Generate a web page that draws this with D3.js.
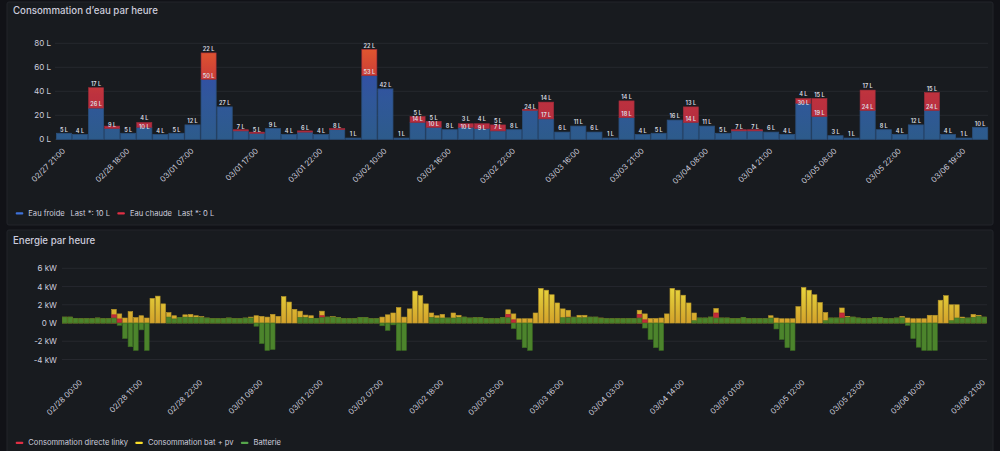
<!DOCTYPE html>
<html><head><meta charset="utf-8">
<script src="https://cdn.jsdelivr.net/npm/d3@7"></script>
<style>
html,body{margin:0;padding:0;background:#111217;}
svg{display:block;font-family:Inter,"Open Sans",sans-serif;}
</style></head><body>
<svg id="c" width="1000" height="451"></svg>
<script>
// ---------- Data: water ----------
const waterTickLabels = ["02/27 21:00","02/28 18:00","03/01 07:00","03/01 17:00","03/01 22:00","03/02 10:00","03/02 16:00","03/02 22:00","03/03 16:00","03/03 21:00","03/04 08:00","03/04 21:00","03/05 08:00","03/05 22:00","03/06 19:00"];
const waterCold = [5,4,26,9,5,10,4,5,12,50, 27,7,5,9,4,6,4,8,1,53, 42,1,14,10,8,10,9,7,8,24, 17,6,11,6,1,18,4,5,16,14, 11,5,7,7,6,4,30,19,3,1, 24,8,4,12,24,4,1,10];
const waterHot  = [0,0,17,2,0,4,0,0,0,22, 0,1,1,0,0,1,0,1,0,22, 0,0,5,5,0,3,4,5,0,1, 14,0,0,0,0,14,0,0,0,13, 0,0,1,1,0,0,4,15,0,0, 17,0,0,0,15,0,0,0];
const waterYTicks = [0,20,40,60,80];

// ---------- Data: energy (hourly, kW) ----------
const energyStart = "2025/02/27 21:00";
const energyTickLabels = ["02/28 00:00","02/28 11:00","02/28 22:00","03/01 09:00","03/01 20:00","03/02 07:00","03/02 18:00","03/03 05:00","03/03 16:00","03/04 03:00","03/04 14:00","03/05 01:00","03/05 12:00","03/05 23:00","03/06 10:00","03/06 21:00"];
const energyYTicks = [-4,-2,0,2,4,6];
const batterie = [
 0.65,0.65,0.5,0.47,0.47,0.47,0.55,0.47,0.47,0.55,
 -0.25,-1.7,-2.6,-3.0,-0.75,-3.0,0,0,0,0.65,
 0.45,0.6,0.65,0.63,0.63,0.6,0.55,0.47,0.47,0.47,
 0.55,0.47,0.47,0.55,0.55,-0.35,-2.25,-3.0,-2.9,0,
 0,0,0,0.6,0.6,0.52,0.5,0.6,0.65,0.65,
 0.58,0.47,0.47,0.47,0.62,0.58,0.47,0.47,-0.3,-0.8,
 -0.2,-3.0,-3.0,0,0,0,0,0.6,0.55,0.55,
 0.55,0.55,0.62,0.65,0.55,0.58,0.58,0.47,0.47,0.47,
 0.58,0.58,-0.6,-1.8,-2.7,-3.0,0,0,0,0,
 0,0.58,0.62,0.62,0.58,0.58,0.65,0.65,0.5,0.47,
 0.47,0.47,0.47,0.47,0.47,0.55,-0.55,-1.8,-2.7,-3.0,
 0,0,0,0,0,0.25,0.55,0.55,0.65,0.55,
 0.55,0.55,0.47,0.47,0.62,0.47,0.47,0.47,0.47,0.55,
 -0.65,-1.8,-2.7,-3.0,0,0,0,0,0,0.25,
 0.55,0.55,0.55,0.62,0.65,0.55,0.47,0.47,0.58,0.58,
 0.47,0.47,0.55,0.58,-0.25,-1.7,-2.65,-3.0,-3.0,-3.0,
 0,0,0.25,0.55,0.52,0.55,0.62,0.73,0.65];
const batPv = [
 0.65,0.65,0.5,0.47,0.47,0.47,0.55,0.47,0.47,1.5,
 1.0,0.55,1.25,0.6,0.8,0.55,2.7,2.95,2.1,1.15,
 0.8,0.6,0.9,0.95,0.8,0.7,0.55,0.47,0.47,0.47,
 0.55,0.47,0.47,0.55,0.65,0.8,0.73,0.65,0.95,0.73,
 2.9,2.3,1.5,1.3,0.87,0.8,0.5,1.3,0.65,0.7,
 0.62,0.47,0.47,0.47,0.62,0.58,0.47,0.47,0.65,0.9,
 1.1,1.7,0.65,1.55,3.5,3.0,2.1,1.1,0.8,0.95,
 0.55,1.1,0.85,0.65,0.55,0.58,0.58,0.47,0.47,0.47,
 0.58,1.45,1.0,0.47,0.47,0.47,1.1,3.8,3.6,3.1,
 2.2,1.55,1.4,0.65,0.85,0.85,0.65,0.65,0.55,0.47,
 0.47,0.47,0.47,0.47,0.47,1.4,1.0,0.5,0.5,0.55,
 1.0,3.8,3.6,3.05,2.2,1.1,0.55,0.55,0.65,1.6,
 0.55,0.55,0.47,0.47,0.62,0.47,0.47,0.47,0.47,0.8,
 0.55,0.47,0.47,0.47,1.8,3.9,3.6,3.1,2.25,1.15,
 0.55,0.55,1.65,0.73,0.65,0.55,0.47,0.47,0.58,0.58,
 0.47,0.47,0.55,0.73,0.55,0.47,0.47,0.47,0.85,0.85,
 2.5,3.0,2.0,2.0,0.65,0.55,0.95,0.85,0.65];
const linky = new Array(169).fill(0);
const linkyPeaks = [[9,0.9],[10,0.45],[47,0.8],[81,0.95],[82,0.35],[92,0.65],[105,0.95],[106,0.35],[119,1.1],[142,1.1]];
linkyPeaks.forEach(([i,v])=>{linky[i]=v;});

// ---------- Drawing ----------
const svg = d3.select("#c");
const TXT = "#ccccdc";
const defs = svg.append("defs");

// panels
svg.append("rect").attr("x",7).attr("y",2).attr("width",986).attr("height",223).attr("rx",2)
  .attr("fill","#181b1f").attr("stroke","#22252b");
svg.append("rect").attr("x",7).attr("y",230).attr("width",986).attr("height",230).attr("rx",2)
  .attr("fill","#181b1f").attr("stroke","#22252b");

svg.append("text").attr("x",13).attr("y",14).attr("fill",TXT).attr("font-size",9.7).attr("font-weight",500)
  .text("Consommation d’eau par heure");
svg.append("text").attr("x",13).attr("y",243.5).attr("fill",TXT).attr("font-size",9.7).attr("font-weight",500)
  .text("Energie par heure");

// ===== Water chart =====
const wx = d3.scaleBand().domain(d3.range(waterCold.length)).range([55.9,988.2]).paddingInner(0.06).paddingOuter(0.03);
const wy = d3.scaleLinear().domain([0,80]).range([139.3,43.3]);

function grad(id, y0, y1, stops){
  const g = defs.append("linearGradient").attr("id",id).attr("gradientUnits","userSpaceOnUse")
    .attr("x1",0).attr("x2",0).attr("y1",y0).attr("y2",y1);
  stops.forEach(s=>g.append("stop").attr("offset",s[0]).attr("stop-color",s[1]));
}
grad("gBlue", wy(0), wy(75), [[0,"#2d5b8b"],[0.45,"#30579a"],[1,"#3549b0"]]);
grad("gRed", wy(0), wy(75), [[0,"#b22a40"],[0.5,"#bd323e"],[0.75,"#cf4236"],[1,"#e0562f"]]);

svg.append("g").selectAll("line").data(waterYTicks).join("line")
  .attr("x1",55).attr("x2",988).attr("y1",d=>wy(d)).attr("y2",d=>wy(d))
  .attr("stroke","#26282e").attr("stroke-width",1);
const wAxis = svg.append("g").attr("transform","translate(53,0)")
  .call(d3.axisLeft(wy).tickValues(waterYTicks).tickSize(0).tickPadding(2).tickFormat(d=>d+" L"));
wAxis.select(".domain").remove();
wAxis.selectAll("text").attr("fill",TXT).attr("font-size",8).attr("font-family","Inter");

const wb = svg.append("g");
waterCold.forEach((c,i)=>{
  const h = waterHot[i];
  wb.append("rect").attr("x",wx(i)).attr("width",wx.bandwidth())
    .attr("y",wy(c)).attr("height",wy(0)-wy(c)).attr("fill","url(#gBlue)")
    .attr("stroke","#2a4f7c").attr("stroke-width",0.8);
  if(h>0){
    wb.append("rect").attr("x",wx(i)).attr("width",wx.bandwidth())
      .attr("y",wy(c+h)).attr("height",wy(c)-wy(c+h)).attr("fill","url(#gRed)")
      .attr("stroke","#9e2a3a").attr("stroke-width",0.6);
  }
});
const lbl = svg.append("g").attr("font-size",5.6).attr("font-weight",600).attr("fill","#dcdde2").attr("text-anchor","middle");
waterCold.forEach((c,i)=>{
  const h = waterHot[i];
  const cx = wx(i)+wx.bandwidth()/2;
  const small = h>=3 && h<5;
  lbl.append("text").attr("x",cx).attr("y",small ? wy(c)+1.6 : wy(c)-1.8).text(c+" L");
  if(h>=3) lbl.append("text").attr("x",cx).attr("y",small ? wy(c+h)-2.6 : wy(c+h)-1.8).text(h+" L");
});
// x labels
const wxl = svg.append("g").attr("font-size",7.8).attr("fill",TXT).attr("text-anchor","end");
waterTickLabels.forEach((t,k)=>{
  const i = k*4;
  const cx = wx(i)+wx.bandwidth()/2;
  wxl.append("text").attr("transform",`translate(${cx+1.8},${151.5}) rotate(-45)`).text(t);
});
// legend: laid out sequentially
function legend(y, items){
  const g = svg.append("g").attr("font-size",7.6).attr("fill",TXT);
  let x = 15.7;
  items.forEach(it=>{
    g.append("rect").attr("x",x).attr("y",y-1).attr("width",7.6).attr("height",2.2).attr("rx",1).attr("fill",it.color);
    x += 12.6;
    it.texts.forEach((s,k)=>{
      const t = g.append("text").attr("x",x).attr("y",y+2.7).text(s);
      x += t.node().getComputedTextLength() + (k < it.texts.length-1 ? 5.7 : 7.2);
    });
  });
}
legend(213.3,[
  {color:"#3d71d9",texts:["Eau froide","Last *: 10 L"]},
  {color:"#e02f44",texts:["Eau chaude","Last *: 0 L"]}
]);

// ===== Energy chart =====
const parse = d3.timeParse("%Y/%m/%d %H:%M");
const t0 = parse(energyStart);
const year = energyStart.slice(0,5);
const times = batPv.map((_,i)=>d3.timeHour.offset(t0,i));
const ex = d3.scaleTime().domain([d3.timeMinute.offset(t0,-30), d3.timeMinute.offset(times[times.length-1],30)]).range([62,987]);
const ey = d3.scaleLinear().domain([-4,6]).range([359.5,268.3]);
grad("gYel", ey(0), ey(4), [[0,"#d4a12a"],[0.5,"#dcbc33"],[1,"#e8d63e"]]);

svg.append("g").selectAll("line").data(energyYTicks).join("line")
  .attr("x1",62).attr("x2",987).attr("y1",d=>ey(d)).attr("y2",d=>ey(d))
  .attr("stroke","#26282e");
const eAxis = svg.append("g").attr("transform","translate(59,0)")
  .call(d3.axisLeft(ey).tickValues(energyYTicks).tickSize(0).tickPadding(2)
    .tickFormat(d=> d===0 ? "0 W" : d+" kW"));
eAxis.select(".domain").remove();
eAxis.selectAll("text").attr("fill",TXT).attr("font-size",8).attr("font-family","Inter");

const bw = 4.6;
const eb = svg.append("g");
function bars(vals, fill, stroke){
  eb.append("g").selectAll("rect").data(vals.map((v,i)=>({v,t:times[i]})).filter(d=>d.v!==0)).join("rect")
    .attr("x",d=>ex(d.t)-bw/2).attr("width",bw)
    .attr("y",d=>Math.min(ey(d.v),ey(0))).attr("height",d=>Math.abs(ey(d.v)-ey(0)))
    .attr("fill",fill).attr("stroke",stroke).attr("stroke-width",0.6);
}
bars(batPv,"url(#gYel)","#b8962a");
bars(linky,"#c4293a","#a8202f");
bars(batterie,"#4c842c","#3d6e22");

const exl = svg.append("g").attr("font-size",7.8).attr("fill",TXT).attr("text-anchor","end");
energyTickLabels.forEach(t=>{
  const x = ex(parse(year+t));
  exl.append("text").attr("transform",`translate(${x+1.5},${383}) rotate(-45)`).text(t);
});
legend(442.7,[
  {color:"#e02f44",texts:["Consommation directe linky"]},
  {color:"#fade2a",texts:["Consommation bat + pv"]},
  {color:"#56a64b",texts:["Batterie"]}
]);
</script>
</body></html>
